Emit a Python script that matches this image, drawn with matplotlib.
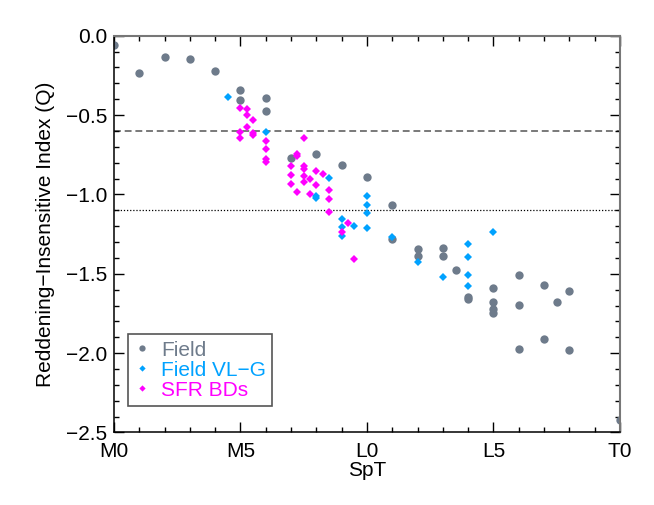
import matplotlib
matplotlib.use('Agg')
import matplotlib.pyplot as plt
from matplotlib.lines import Line2D
from matplotlib.ticker import MultipleLocator

plt.rcParams['font.family'] = ['Liberation Sans', 'DejaVu Sans']

# spectral type: M0=0, L0=10, T0=20
field_x = [0, 1, 2, 3, 4, 5, 5, 6, 6, 7, 8, 9, 10, 11, 11, 12, 12, 13, 13, 13.5,
           14, 14, 15, 15, 15, 15, 16, 16, 16, 17, 17, 17.5, 18, 18, 20]
field_q = [-0.06, -0.237, -0.136, -0.149, -0.223, -0.344, -0.405, -0.393, -0.473,
           -0.769, -0.748, -0.817, -0.893, -1.067, -1.284, -1.345, -1.387, -1.339,
           -1.39, -1.475, -1.646, -1.662, -1.587, -1.677, -1.723, -1.746, -1.507,
           -1.696, -1.974, -1.568, -1.908, -1.677, -1.608, -1.98, -2.42]

vlg_x = [4.5, 6, 8, 8, 8.5, 9, 9, 9, 9.5, 10, 10, 10, 10, 11, 12, 13, 14, 14, 14, 14, 15]
vlg_q = [-0.387, -0.609, -1.009, -1.025, -0.895, -1.152, -1.206, -1.26, -1.2, -1.009,
         -1.067, -1.12, -1.214, -1.267, -1.423, -1.523, -1.311, -1.393, -1.507, -1.576,
         -1.234]

sfr_x = [5, 5.25, 5.25, 5.5, 5, 5, 5.25, 5.5, 5.5, 6, 6, 6, 6, 7.5, 7.25, 7.25, 7, 7, 7,
         7.5, 7.5, 7.5, 7.5, 7.25, 7.75, 7.75, 8, 8, 8.25, 8.5, 8.5, 8.5, 9, 9.25, 9.5]
sfr_q = [-0.458, -0.464, -0.5, -0.532, -0.609, -0.647, -0.578, -0.615, -0.626, -0.664,
         -0.716, -0.779, -0.794, -0.647, -0.748, -0.76, -0.818, -0.878, -0.935, -0.82,
         -0.842, -0.884, -0.923, -0.987, -0.904, -0.996, -0.853, -0.942, -0.874, -0.972,
         -1.032, -1.112, -1.237, -1.179, -1.408]

tick_pos = [0, 5, 10, 15, 20]
tick_lab = ['M0', 'M5', 'L0', 'L5', 'T0']

c_field = '#6E7B8B'
c_vlg = '#00A2FF'
c_sfr = '#FF00FF'
fs = 15

fig = plt.figure(figsize=(6.54, 5.05), dpi=100)
ax = fig.add_axes([0.1743, 0.1436, 0.7737, 0.7857])

ax.axhline(-0.6, ls=(0, (4.5, 2.5)), color='#555555', lw=1.1, zorder=1)
ax.axhline(-1.1, ls=(0, (1, 1.5)), color='black', lw=0.9, zorder=1)

ax.plot(field_x, field_q, 'o', color=c_field, ms=6, mew=0, zorder=2)
ax.plot(vlg_x, vlg_q, 'D', color=c_vlg, ms=4.3, mew=0, zorder=3)
ax.plot(sfr_x, sfr_q, 'D', color=c_sfr, ms=4.3, mew=0, zorder=4)

ax.set_xlim(0, 20)
ax.set_ylim(-2.5, 0)
ax.set_xticks(tick_pos)
ax.set_xticklabels(tick_lab)
ax.xaxis.set_minor_locator(MultipleLocator(1))
ax.yaxis.set_major_locator(MultipleLocator(0.5))
ax.yaxis.set_minor_locator(MultipleLocator(0.1))
ax.tick_params(which='both', direction='in', top=True, right=True, labelsize=fs)
ax.tick_params(which='major', length=7, width=1)
ax.tick_params(which='minor', length=3.5, width=1)
ax.tick_params(axis='x', pad=7)
ax.tick_params(axis='y', pad=5)

for s in ['left', 'bottom']:
    ax.spines[s].set_color('black')
    ax.spines[s].set_linewidth(1.1)
for s in ['top', 'right']:
    ax.spines[s].set_color('#777777')
    ax.spines[s].set_linewidth(1.5)

ax.set_xlabel('SpT', fontsize=fs, labelpad=0)
ax.set_ylabel('Reddening\u2212Insensitive Index (Q)', fontsize=fs, labelpad=8)

handles = [Line2D([], [], ls='', marker='o', color=c_field, ms=4.5, mew=0),
           Line2D([], [], ls='', marker='D', color=c_vlg, ms=3.2, mew=0),
           Line2D([], [], ls='', marker='D', color=c_sfr, ms=3.2, mew=0)]
leg = ax.legend(handles, ['Field', 'Field VL\u2212G', 'SFR BDs'], loc='upper left',
                bbox_to_anchor=(0.027, 0.2475), borderaxespad=0, fontsize=fs,
                fancybox=False, framealpha=1, edgecolor='#555555',
                handlelength=0.8, handletextpad=0.5, labelspacing=0.05,
                borderpad=0.3)
leg.get_frame().set_linewidth(1.2)
for t, c in zip(leg.get_texts(), [c_field, c_vlg, c_sfr]):
    t.set_color(c)

plt.savefig('out.png', dpi=100)
